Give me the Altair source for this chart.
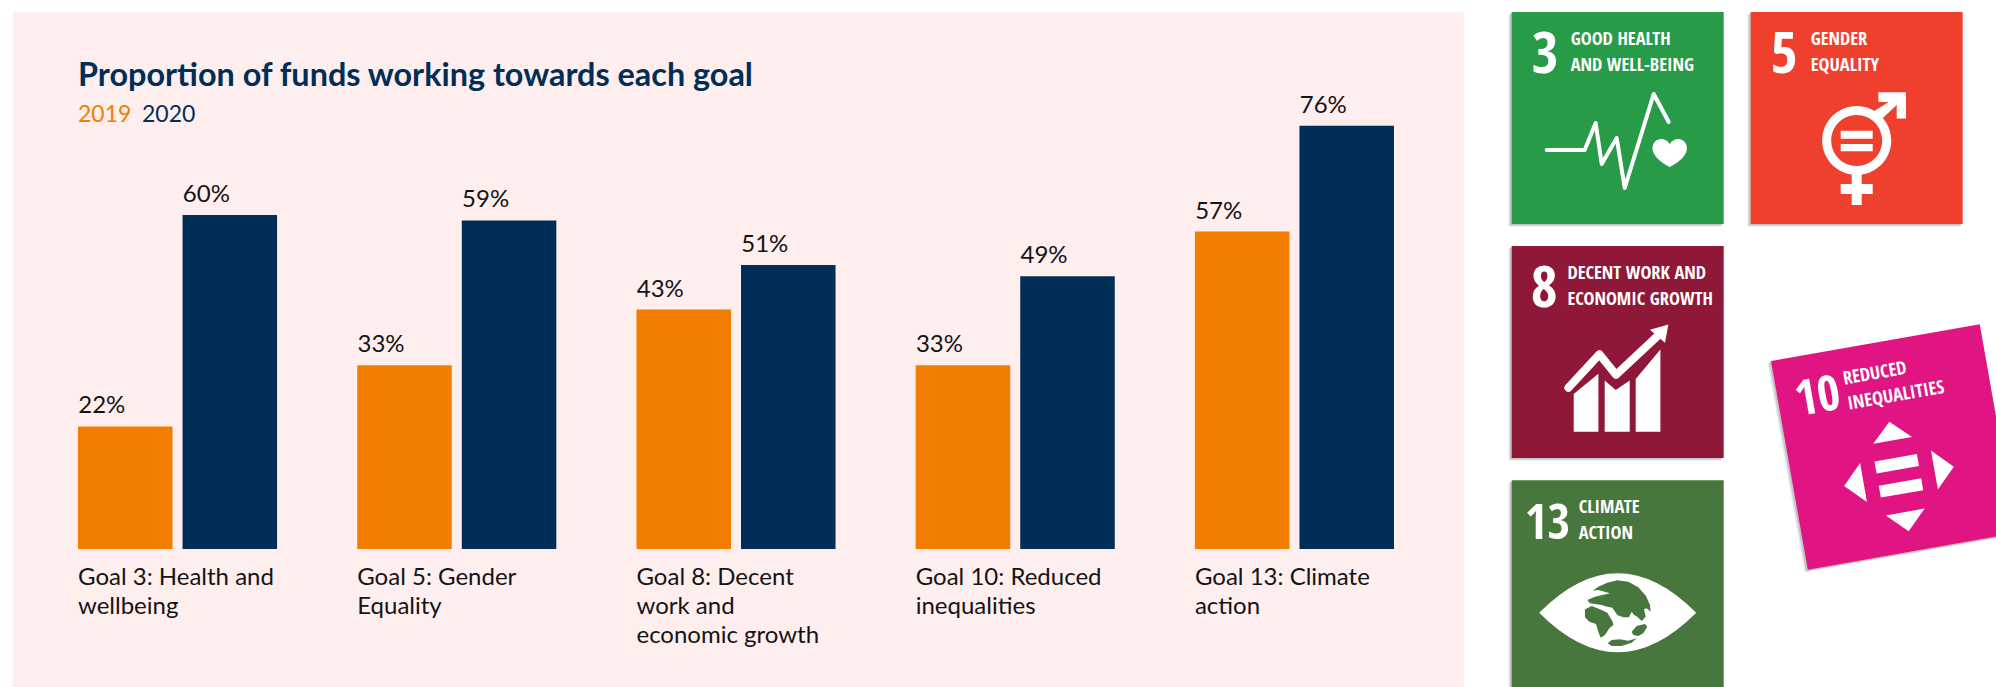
import math

import altair as alt
import pandas as pd

# Share of funds per goal, in percent
GOALS = [
    "Goal 3: Health and\nwellbeing",
    "Goal 5: Gender\nEquality",
    "Goal 8: Decent\nwork and\neconomic growth",
    "Goal 10: Reduced\ninequalities",
    "Goal 13: Climate\naction",
]
YEARS = ["2019", "2020"]
VALUES_2019 = [22, 33, 43, 33, 57]
VALUES_2020 = [60, 59, 51, 49, 76]

TITLE = "Proportion of funds working towards each goal"

ORANGE = "#F37D00"
NAVY = "#002E56"
PANEL = "#FEEEEE"
INK = "#141414"
BODY_FONT = "Lato"
TILE_FONT = "Noto Sans Condensed, Open Sans Condensed, Roboto Condensed, DejaVu Sans Condensed, Roboto"

rows = []
for goal, a, b in zip(GOALS, VALUES_2019, VALUES_2020):
    rows.append({"goal": goal, "year": YEARS[0], "value": a, "label": f"{a}%"})
    rows.append({"goal": goal, "year": YEARS[1], "value": b, "label": f"{b}%"})
table = pd.DataFrame(rows)

x_scale = alt.Scale(range=[78, 1394], paddingInner=0.287, paddingOuter=0, align=0)
y_scale = alt.Scale(domain=[0, 95], range=[549, 20])
offset_scale = alt.Scale(domain=YEARS, paddingInner=0.0957, paddingOuter=0)
color_scale = alt.Scale(domain=YEARS, range=[ORANGE, NAVY])

one = alt.Data(values=[{}])


def shape_at(cx, cy, path, color, angle=0, filled=True, stroke_width=0):
    # A symbol of size 4 draws its path at one unit per pixel, centred on (cx, cy)
    kw = {"shape": path, "size": 4, "opacity": 1, "angle": angle}
    if filled:
        kw.update(filled=True, fill=color, strokeWidth=0)
    else:
        kw.update(filled=False, stroke=color, strokeWidth=stroke_width,
                  strokeJoin="round", strokeCap="round")
    return alt.Chart(one).mark_point(**kw).encode(x=alt.value(cx), y=alt.value(cy))


def label_at(x, y, text, size, color, font=BODY_FONT, weight="normal", angle=0):
    return alt.Chart(one).mark_text(
        text=text, fontSize=size, color=color, font=font, fontWeight=weight,
        align="left", baseline="alphabetic", angle=angle,
    ).encode(x=alt.value(x), y=alt.value(y))


def polygon(points):
    return "M" + " L".join(f"{x:.1f},{y:.1f}" for x, y in points) + " Z"


SQUARE = "M-106,-106 H106 V106 H-106 Z"

# Tile pictograms, in pixels from the tile's centre
HEARTBEAT = "M-71,32 L-33,32 L-22,5 L-16,46 L-1,20 L7,70 L36,-24 L51,4"
HEART = ("M52,26 C47,18 37,20 35,28 C33,36 42,44 52,49 C62,44 71,36 69,28 "
         "C67,20 57,18 52,26 Z")
GENDER = (
    "M-34.5,22.5 A34.5,34.5 0 1 1 34.5,22.5 A34.5,34.5 0 1 1 -34.5,22.5 Z "
    "M-25.5,22.5 A25.5,25.5 0 1 0 25.5,22.5 A25.5,25.5 0 1 0 -25.5,22.5 Z "
    "M-16,12.8 H16 V20.7 H-16 Z M-16,26 H16 V33.3 H-16 Z "
    "M-5,55 H5 V66 H16 V76 H5 V87 H-5 V76 H-16 V66 H-5 Z "
    "M21.7,-25.8 H49.3 V0.5 H40 V-13 L24,2 L16,-6 L32,-16 H21.7 Z"
)
BARS_UP = (
    "M-44,42 L-19.3,21.7 V79.8 H-44 Z "
    "M-13,28.5 L-2,38 L12,28.5 V79.8 H-13 Z "
    "M18,27 L42.7,-2.6 V79.8 H18 Z"
)
TREND = "M-49.3,35.7 L-18.3,2.2 L-1.7,22.8 L42,-18"
ARROW_TIP = "M50.7,-27.6 L32.3,-22.3 L47.3,-9.2 Z"
EYE = "M-78.5,26.5 Q0,-52.5 78.5,26.5 Q0,105.5 -78.5,26.5 Z"


def land(points):
    # Outlines are drafted on a three-to-one grid
    return polygon([(x / 3 - 87.7, y / 3 - 26.3) for x, y in points])


EURASIA = [(188, 92), (205, 80), (232, 68), (262, 61), (295, 65), (325, 82), (348, 108),
           (360, 135), (362, 155), (350, 145), (342, 148), (347, 170), (335, 183),
           (322, 170), (312, 165), (305, 155), (297, 172), (280, 172), (262, 165),
           (247, 143), (232, 140), (215, 135), (180, 130), (172, 120), (195, 110),
           (240, 100), (205, 90)]
AFRICA = [(165, 148), (185, 138), (215, 150), (232, 158), (248, 185), (250, 195),
          (238, 205), (225, 225), (212, 233), (205, 215), (198, 192), (178, 185), (165, 172)]
AUSTRALIA = [(305, 215), (320, 198), (345, 192), (352, 200), (340, 220), (325, 228), (310, 225)]
ANTARCTICA = [(233, 250), (245, 240), (270, 238), (295, 242), (320, 235), (305, 248),
              (275, 258), (245, 258)]

TRIANGLES = (
    "M0,-25.7 L19.7,-6.7 L-19.7,-6.7 Z "
    "M36,10 L55.7,29.8 L36,49.5 Z "
    "M-36,10 L-55.7,29.8 L-36,49.5 Z "
    "M-19.7,66 L19.7,66 L0,85.5 Z "
    "M-21.5,11 H21.5 V23 H-21.5 Z M-21.5,35.5 H21.5 V47.6 H-21.5 Z"
)

GREEN = "#279B48"
RED = "#EF402D"
MAROON = "#8F1838"
CLIMATE = "#48773E"
MAGENTA = "#E11484"

CAPTION_SIZE = 18.4
NUMBER_SIZE = 58
WIDE_NUMBER_SIZE = 49


def tile(cx, cy, color, number, number_x, lines, lines_x, baselines, marks, angle=0):
    """One goal tile: shadow, square, number, two caption lines and its pictogram."""
    theta = math.radians(angle)

    def place(x, y):
        return cx + x * math.cos(theta) + y * math.sin(theta), cy - x * math.sin(theta) + y * math.cos(theta)

    rot = (360 - angle) % 360
    parts = [
        shape_at(cx - 3.2, cy + 2.4, SQUARE, "#E6E6E6", rot),
        shape_at(cx - 1.8, cy + 1.4, SQUARE, "#C4C4C4", rot),
        shape_at(cx, cy, SQUARE, color, rot),
    ]
    number_size = WIDE_NUMBER_SIZE if len(number) > 1 else NUMBER_SIZE
    nx, ny = place(number_x - 106, 59 - 106 if len(number) > 1 else 61 - 106)
    parts.append(label_at(nx, ny, number, number_size, "white", TILE_FONT, "bold", rot))
    for line, base in zip(lines, baselines):
        lx, ly = place(lines_x - 106, base - 106)
        parts.append(label_at(lx, ly, line, CAPTION_SIZE, "white", TILE_FONT, "bold", rot))
    for path, paint, stroke in marks:
        if stroke:
            parts.append(shape_at(cx, cy, path, paint, rot, filled=False, stroke_width=stroke))
        else:
            parts.append(shape_at(cx, cy, path, paint, rot))
    return parts


panel = alt.Chart(one).mark_rect(color=PANEL).encode(
    x=alt.value(12.8), x2=alt.value(1464), y=alt.value(12), y2=alt.value(687)
)

bars = alt.Chart(table).mark_bar().encode(
    x=alt.X("goal:N", sort=GOALS, scale=x_scale, axis=None),
    xOffset=alt.XOffset("year:N", scale=offset_scale),
    y=alt.Y("value:Q", scale=y_scale, axis=None),
    color=alt.Color("year:N", scale=color_scale, legend=None),
)

# The offset scale centres each label on its bar; dx moves it to the bar's left edge
value_labels = alt.Chart(table).mark_text(
    align="left", baseline="alphabetic", dx=-47, dy=-13, font=BODY_FONT, fontSize=24, color=INK
).encode(
    x=alt.X("goal:N", sort=GOALS, scale=x_scale, axis=None, bandPosition=0),
    xOffset=alt.XOffset("year:N", scale=offset_scale),
    y=alt.Y("value:Q", scale=y_scale, axis=None),
    text="label:N",
)

goal_labels = alt.Chart(table[table.year == YEARS[0]]).mark_text(
    align="left", baseline="alphabetic", lineBreak="\n", lineHeight=29,
    font=BODY_FONT, fontSize=24, color=INK,
).encode(
    x=alt.X("goal:N", sort=GOALS, scale=x_scale, axis=None, bandPosition=0),
    y=alt.value(585),
    text="goal:N",
)

header = [
    label_at(78, 85.5, TITLE, 32.4, NAVY, weight="bold"),
    label_at(78, 122, YEARS[0], 23, ORANGE),
    label_at(142, 122, YEARS[1], 23, NAVY),
]

BASELINES = [33, 58.5]
tiles = []
tiles += tile(1617.7, 118, GREEN, "3", 20, ["GOOD HEALTH", "AND WELL-BEING"], 59, BASELINES,
              [(HEARTBEAT, "white", 4), (HEART, "white", 0)])
tiles += tile(1856.7, 118, RED, "5", 20, ["GENDER", "EQUALITY"], 60, BASELINES,
              [(GENDER, "white", 0)])
tiles += tile(1617.7, 352, MAROON, "8", 19, ["DECENT WORK AND", "ECONOMIC GROWTH"], 55.7, BASELINES,
              [(BARS_UP, "white", 0), (TREND, "white", 8), (ARROW_TIP, "white", 0)])
tiles += tile(1617.7, 586.3, CLIMATE, "13", 13, ["CLIMATE", "ACTION"], 67, BASELINES,
              [(EYE, "white", 0), (land(EURASIA), CLIMATE, 0), (land(AFRICA), CLIMATE, 0),
               (land(AUSTRALIA), CLIMATE, 0), (land(ANTARCTICA), CLIMATE, 0)])
tiles += tile(1893.8, 447, MAGENTA, "10", 17, ["REDUCED", "INEQUALITIES"], 68, [36, 61.5],
              [(TRIANGLES, "white", 0)], angle=10)

chart = alt.layer(panel, bars, value_labels, goal_labels, *header, *tiles).properties(
    width=1996,
    height=687,
    padding=0,
    autosize=alt.AutoSizeParams(type="none"),
    background="white",
).configure_view(stroke=None)

chart.save("out.html", embed_options={"renderer": "svg", "actions": False})
